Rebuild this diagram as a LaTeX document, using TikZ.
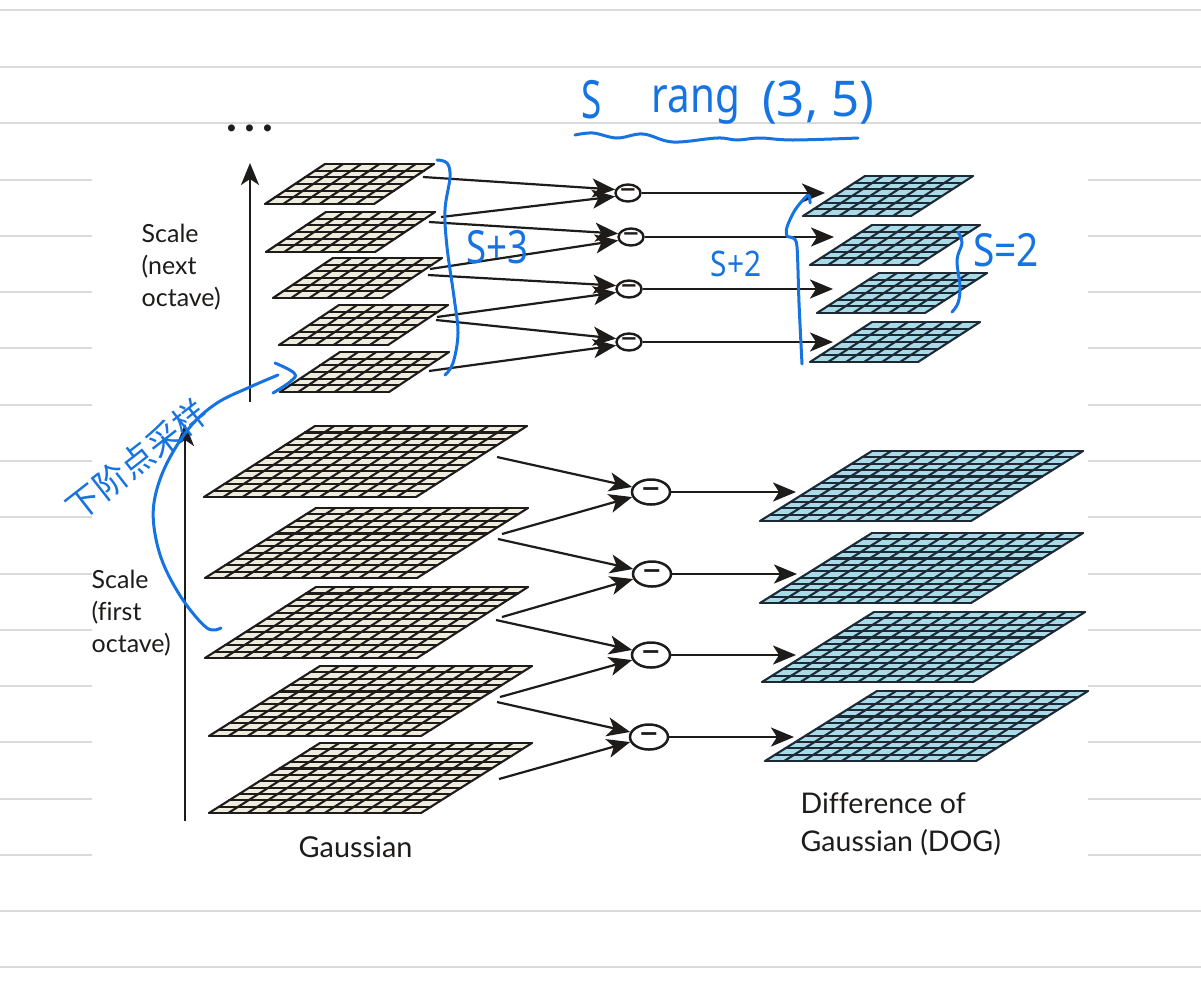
\documentclass[tikz,border=0pt]{standalone}
\usepackage{fontspec}
\usetikzlibrary{arrows.meta,shapes.geometric}
\setmainfont{Lato}[Ligatures=NoCommon]
\newfontfamily\cjkfont{Noto Sans CJK SC}
\newfontfamily\handfont{Noto Sans}
\newfontfamily\minusfont{DejaVu Sans}
\definecolor{rule-gray}{HTML}{DADADA}
\definecolor{ink-dark}{HTML}{1E1C1A}
\definecolor{pen-blue}{HTML}{1673E2}
\definecolor{gauss-fill}{HTML}{EFEBDD}
\definecolor{dog-fill}{HTML}{A8DAE8}
\definecolor{dog-line}{HTML}{1C2A36}
\tikzset{
  ruleline/.style={draw=rule-gray, line width=.014cm},
  gridline/.style={line width=.021cm, line cap=round},
  flow/.style={-{Stealth[length=.23cm,width=.19cm,inset=.06cm]}, draw=ink-dark, line width=.022cm},
  axis/.style={-{Stealth[length=.22cm,width=.18cm,inset=.06cm]}, draw=ink-dark, line width=.022cm},
  smalldiff/.style={ellipse, draw=ink-dark, fill=white, line width=.024cm, inner sep=0pt,
    minimum width=.25cm, minimum height=.17cm, text=ink-dark, font=\minusfont\bfseries\fontsize{6}{6}\selectfont},
  bigdiff/.style={ellipse, draw=ink-dark, fill=white, line width=.025cm, inner sep=0pt,
    minimum width=.38cm, minimum height=.25cm, text=ink-dark, font=\minusfont\bfseries\fontsize{6.8}{7}\selectfont},
  textlabel/.style={anchor=west, align=left, inner sep=0pt, text=ink-dark},
  pen/.style={draw=pen-blue, line width=.03cm, line cap=round, line join=round},
  hand/.style={text=pen-blue, inner sep=0pt, font=\handfont\fontsize{13}{13}\selectfont}
}
\newcommand{\minusbar}{\raisebox{-.025cm}{−}}
% x, y of lower left corner, width, skew, height, cells, fill, line
\newcommand{\layer}[8]{
  \fill[#7] (#1,#2) -- ++(#3,0) -- ++(#4,-#5) -- ++(-#3,0) -- cycle;
  \foreach \k in {0,...,#6}{
    \draw[gridline, #8] ({#1+#3*\k/#6},#2) -- ++(#4,-#5);
    \draw[gridline, #8] ({#1+#4*\k/#6},{#2-#5*\k/#6}) -- ++(#3,0);
  }
}
\begin{document}
\begin{tikzpicture}[x=.01cm, y=-.01cm]
  \useasboundingbox (0,0) rectangle (1201,1000);
  \fill[white] (0,0) rectangle (1201,1000);

  % ruled paper
  \foreach \y in {10,67,123,911,967}
    \draw[ruleline] (0,\y) -- (1201,\y);
  \foreach \y in {180,236,292,348,405,461,517,574,630,686,742,799,855}{
    \draw[ruleline] (0,\y) -- (92,\y);
    \draw[ruleline] (1088,\y) -- (1201,\y);
  }

  % next octave
  \foreach \x/\y in {265/204,266/252,273/298,279/345,280/392}{
    \layer{\x}{\y}{109}{60}{40}{6}{gauss-fill}{ink-dark}
  }
  \foreach \x/\y in {803/216,810/265,817/313,810/362}{
    \layer{\x}{\y}{108}{62}{40}{6}{dog-fill}{dog-line}
  }

  % first octave
  \foreach \x/\y/\h in {204/497/71,205/578/70,205/658/71,209/736/70,209/813/70}{
    \layer{\x}{\y}{212}{111}{\h}{11}{gauss-fill}{ink-dark}
  }
  \foreach \x/\y in {760/521,760/603,762/682,765/761}{
    \layer{\x}{\y}{211}{112}{70}{11}{dog-fill}{dog-line}
  }

  \node[smalldiff] (dt1) at (628,193) {\minusbar};
  \node[smalldiff] (dt2) at (631,237) {\minusbar};
  \node[smalldiff] (dt3) at (629,289) {\minusbar};
  \node[smalldiff] (dt4) at (629,342) {\minusbar};
  \node[bigdiff] (db1) at (651,492) {\minusbar};
  \node[bigdiff] (db2) at (652,574) {\minusbar};
  \node[bigdiff] (db3) at (651,655) {\minusbar};
  \node[bigdiff] (db4) at (649,737) {\minusbar};

  \coordinate (gt1) at (423,177);
  \coordinate (gt2a) at (441,217);
  \coordinate (gt2b) at (429,222);
  \coordinate (gt3a) at (430,269);
  \coordinate (gt3b) at (428,275);
  \coordinate (gt4a) at (437,317);
  \coordinate (gt4b) at (436,320);
  \coordinate (gt5) at (429,371);
  \coordinate (ot1) at (825,193);
  \coordinate (ot2) at (834,237);
  \coordinate (ot3) at (833,289);
  \coordinate (ot4) at (833,342);
  \coordinate (gb1) at (497,457);
  \coordinate (gb2a) at (502,534);
  \coordinate (gb2b) at (498,539);
  \coordinate (gb3a) at (502,617);
  \coordinate (gb3b) at (496,620);
  \coordinate (gb4a) at (500,697);
  \coordinate (gb4b) at (497,702);
  \coordinate (gb5) at (499,779);
  \coordinate (ob1) at (796,492);
  \coordinate (ob2) at (797,574);
  \coordinate (ob3) at (796,655);
  \coordinate (ob4) at (794,737);
  \coordinate (axt0) at (250,402);
  \coordinate (axt1) at (250,163);
  \coordinate (axb0) at (185,821);
  \coordinate (axb1) at (185,424);

  \draw[flow] (gt1) -- (dt1.165);
  \draw[flow] (gt2a) -- (dt1.195);
  \draw[flow] (gt2b) -- (dt2.165);
  \draw[flow] (gt3a) -- (dt2.195);
  \draw[flow] (gt3b) -- (dt3.165);
  \draw[flow] (gt4a) -- (dt3.195);
  \draw[flow] (gt4b) -- (dt4.165);
  \draw[flow] (gt5) -- (dt4.195);
  \draw[flow] (dt1) -- (ot1);
  \draw[flow] (dt2) -- (ot2);
  \draw[flow] (dt3) -- (ot3);
  \draw[flow] (dt4) -- (ot4);
  \draw[flow] (gb1) -- (db1.165);
  \draw[flow] (gb2a) -- (db1.195);
  \draw[flow] (gb2b) -- (db2.165);
  \draw[flow] (gb3a) -- (db2.195);
  \draw[flow] (gb3b) -- (db3.165);
  \draw[flow] (gb4a) -- (db3.195);
  \draw[flow] (gb4b) -- (db4.165);
  \draw[flow] (gb5) -- (db4.195);
  \draw[flow] (db1) -- (ob1);
  \draw[flow] (db2) -- (ob2);
  \draw[flow] (db3) -- (ob3);
  \draw[flow] (db4) -- (ob4);
  \draw[axis] (axt0) -- (axt1);
  \draw[axis] (axb0) -- (axb1);

  \node[inner sep=0pt, text=ink-dark, font=\bfseries\fontsize{13}{13}\selectfont] (more) at (250,128) {.\hspace{2pt}.\hspace{2pt}.};
  \node[textlabel, font=\fontsize{7.1}{9.1}\selectfont] (lnext) at (141,267) {Scale\\(next\\octave)};
  \node[textlabel, font=\fontsize{7.1}{9.1}\selectfont] (lfirst) at (91,613) {Scale\\(first\\octave)};
  \node[textlabel, font=\fontsize{8.2}{10.8}\selectfont] (lgauss) at (298,847) {Gaussian};
  \node[textlabel, font=\fontsize{8.1}{10.8}\selectfont] (ldog) at (800,824) {Difference of\\Gaussian (DOG)};

  % handwriting
  \draw[pen] plot[smooth, tension=.6] coordinates {(575,135) (593,133) (617,138) (643,134) (673,142) (717,138) (737,140) (760,138) (793,140) (858,138)};
  \draw[pen] plot[smooth, tension=.6] coordinates {(437,160) (447,163) (450,177) (445,210) (447,247) (454,297) (458,333) (453,363) (445,375)};
  \draw[pen] plot[smooth, tension=.5] coordinates {(802,364) (799,303) (797,247) (793,238) (787,236) (787,227) (795,210) (808,195) (810,203)};
  \draw[pen] plot[smooth, tension=.6] coordinates {(958,232) (962,243) (957,260) (960,287) (958,303) (952,312)};
  \draw[pen] plot[smooth, tension=.6] coordinates {(221,628) (207,628) (183,600) (163,563) (154,527) (155,497) (167,463) (190,427) (217,403) (250,387) (278,375)};
  \draw[pen] plot[smooth, tension=.7] coordinates {(275,363) (294,373) (291,381) (273,393)};

  \node[hand, font=\handfont\fontsize{15}{15}\selectfont] (sname) at (592,100) {\scalebox{.7}[1]{S}};
  \node[hand, font=\handfont\fontsize{14}{14}\selectfont] (srang) at (696,105) {\scalebox{.82}[1]{rang}};
  \node[hand, font=\handfont\fontsize{14}{14}\selectfont] (srange) at (818,103) {(3, 5)};
  \node[hand] (splus3) at (497,247) {\scalebox{.8}[1]{S+3}};
  \node[hand, font=\handfont\fontsize{10}{10}\selectfont] (splus2) at (736,264) {\scalebox{.85}[1]{S+2}};
  \node[hand] (seq2) at (1006,250) {\scalebox{.85}[1]{S=2}};
  \node[hand, rotate=38, font=\cjkfont\fontsize{9.6}{9.6}\selectfont] (downs) at (137,460) {下阶点采样};
\end{tikzpicture}
\end{document}
